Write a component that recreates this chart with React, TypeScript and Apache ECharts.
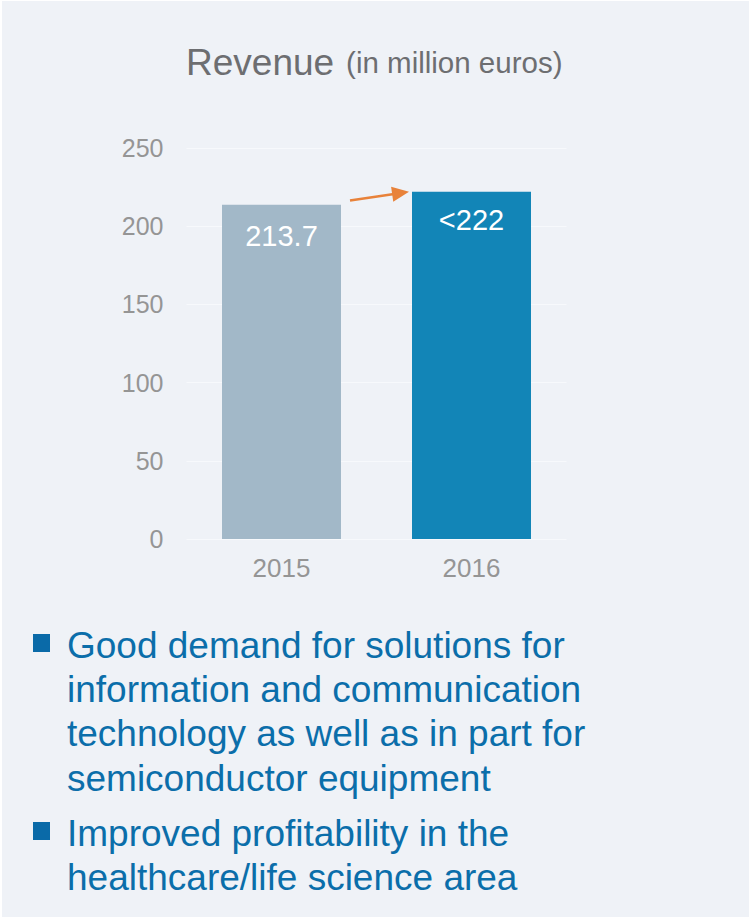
import React, { useEffect, useRef } from "react";
import * as echarts from "echarts";

const categories = ["2015", "2016"];
const revenue = [213.7, 222];
const barLabels = ["213.7", "<222"];
const yTicks = { min: 0, max: 250, interval: 50 };
const arrowFromValue = 216.5;
const arrowToValue = 222;
const bullets = [
  "Good demand for solutions for\ninformation and communication\ntechnology as well as in part for\nsemiconductor equipment",
  "Improved profitability in the\nhealthcare/life science area",
];

const FONT = "'Liberation Sans', Arial, sans-serif";
const BG = "#EFF2F7";
const BLUE_TEXT = "#0B6EAA";

export default function App() {
  const ref = useRef<HTMLDivElement>(null);
  useEffect(() => {
    if (!ref.current) return;
    const chart = echarts.init(ref.current, null, { renderer: "svg" });
    const barW = 119;
    chart.setOption({
      animation: false,
      backgroundColor: "#FFFFFF",
      textStyle: { fontFamily: FONT },
      title: {
        text: "{a|Revenue}{b|(in million euros)}",
        left: 186,
        top: 40,
        padding: 0,
        textStyle: {
          fontWeight: "normal",
          rich: {
            a: { fontSize: 37, color: "#6D6E71", fontFamily: FONT, fontWeight: "normal", lineHeight: 44, padding: [0, 12, 0, 0] },
            b: { fontSize: 29.5, color: "#6D6E71", fontFamily: FONT, fontWeight: "normal", lineHeight: 44 },
          },
        },
      },
      grid: { left: 186.5, right: 182.5, top: 148, bottom: 378, containLabel: false },
      xAxis: {
        type: "category",
        data: categories,
        axisLine: { show: false },
        axisTick: { show: false },
        axisLabel: { fontSize: 26, color: "#959595", margin: 16, fontFamily: FONT },
      },
      yAxis: {
        type: "value",
        min: yTicks.min,
        max: yTicks.max,
        interval: yTicks.interval,
        axisLine: { show: false },
        axisTick: { show: false },
        axisLabel: { fontSize: 25, color: "#959595", margin: 23, fontFamily: FONT },
        splitLine: { lineStyle: { color: "#F7F9FC", width: 1 } },
      },
      series: [
        {
          type: "bar",
          barWidth: barW,
          data: revenue.map((v, i) => ({
            value: v,
            itemStyle: { color: i === 0 ? "#A2B8C8" : "#1285B7" },
            label: {
              show: true,
              position: "insideTop",
              distance: i === 0 ? 17 : 14,
              formatter: () => barLabels[i],
              color: "#FFFFFF",
              fontSize: 29,
              fontFamily: FONT,
            },
          })),
        },
      ],
    });

    const p0 = chart.convertToPixel({ seriesIndex: 0 }, [0, arrowFromValue]) as number[];
    const p1 = chart.convertToPixel({ seriesIndex: 0 }, [1, arrowToValue]) as number[];
    const sx = p0[0] + barW / 2 + 9;
    const sy = p0[1];
    const ex = p1[0] - barW / 2 - 3;
    const ey = p1[1];
    const dx = ex - sx;
    const dy = ey - sy;
    const len = Math.sqrt(dx * dx + dy * dy);
    const ux = dx / len;
    const uy = dy / len;
    const headL = 17;
    const headW = 7.5;
    const bx = ex - ux * headL;
    const by = ey - uy * headL;
    const orange = "#E8823A";

    const graphics: any[] = [
      { type: "rect", z: -10, silent: true, shape: { x: 2, y: 1, width: 749, height: 917 }, style: { fill: BG } },
      { type: "line", shape: { x1: sx, y1: sy, x2: bx + ux * 2, y2: by + uy * 2 }, style: { stroke: orange, lineWidth: 2.5 } },
      {
        type: "polygon",
        shape: {
          points: [
            [ex, ey],
            [bx - uy * headW, by + ux * headW],
            [bx + uy * headW, by - ux * headW],
          ],
        },
        style: { fill: orange },
      },
    ];
    const bulletTops = [623, 811];
    bullets.forEach((t, i) => {
      graphics.push({
        type: "rect",
        shape: { x: 33, y: bulletTops[i] + 11, width: 17, height: 18 },
        style: { fill: "#0A6AA8" },
      });
      graphics.push({
        type: "text",
        x: 67,
        y: bulletTops[i],
        style: {
          text: t,
          fill: BLUE_TEXT,
          fontSize: 37,
          fontFamily: FONT,
          lineHeight: 44.3,
          verticalAlign: "top",
          align: "left",
        },
      });
    });
    chart.setOption({ graphic: graphics });

    return () => chart.dispose();
  }, []);
  return (
    <div
      ref={ref}
      style={{ position: "absolute", left: 0, top: 0, width: 749, height: 917 }}
    />
  );
}
